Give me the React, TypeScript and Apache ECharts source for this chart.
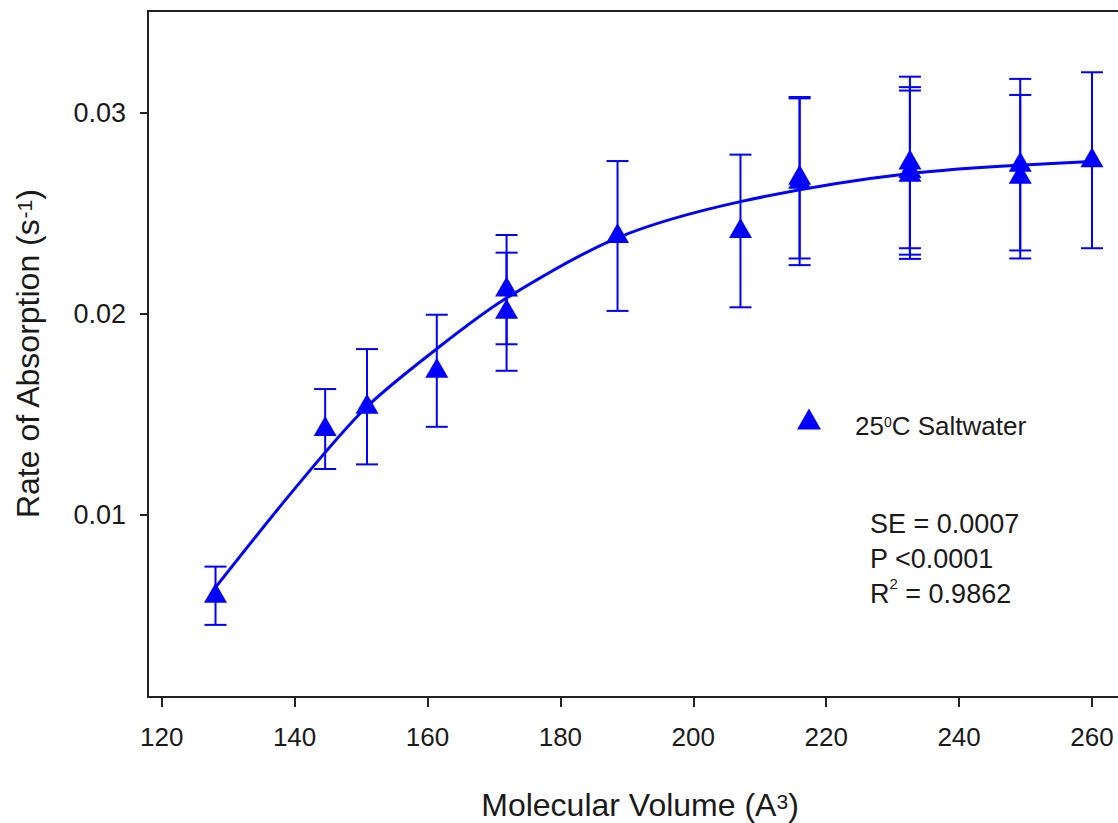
import React, { useEffect, useRef } from "react";
import * as echarts from "echarts";

// Measured points (Molecular Volume, Rate of Absorption, error)
const volumes = [128.1, 144.6, 150.9, 161.4, 171.9, 171.9, 188.6, 207.1, 216.0, 216.0, 232.6, 232.6, 232.6, 249.2, 249.2, 260.0];
const rates = [0.00598, 0.01428, 0.01539, 0.01718, 0.02122, 0.02012, 0.02389, 0.02414, 0.02679, 0.02659, 0.02755, 0.02713, 0.02694, 0.02744, 0.02684, 0.02766];
const errors = [0.00145, 0.00199, 0.00287, 0.00279, 0.00272, 0.00294, 0.00373, 0.0038, 0.00402, 0.00415, 0.00427, 0.00417, 0.00419, 0.00427, 0.00407, 0.00438];

// Fitted curve
const fitX = [128.1, 140, 150.6, 161.5, 171.9, 188.6, 207.1, 232.6, 260];
const fitY = [0.0064, 0.0113, 0.0153, 0.0183, 0.0208, 0.0238, 0.0256, 0.0270, 0.0276];

const xTicks = [120, 140, 160, 180, 200, 220, 240, 260];
const yTicks = [0.01, 0.02, 0.03];

const BLUE = "#0000ff";
const TXT = "#1a1a1a";
const FONT = "Liberation Sans, Arial, sans-serif";

export default function App() {
  const ref = useRef<HTMLDivElement>(null);
  useEffect(() => {
    if (!ref.current) return;
    const chart = echarts.init(ref.current, null, { renderer: "svg" });
    const points = volumes.map((v, i) => [v, rates[i]]);
    const bars = volumes.map((v, i) => [v, rates[i], errors[i]]);
    const curve = fitX.map((v, i) => [v, fitY[i]]);
    const titleStyle = {
      fontFamily: FONT,
      fontSize: 32,
      color: TXT,
      lineHeight: 28,
      rich: {
        sup: { fontFamily: FONT, fontSize: 21, lineHeight: 12, verticalAlign: "top", color: TXT },
      },
    };
    const option: any = {
      animation: false,
      backgroundColor: "#ffffff",
      grid: {
        left: 148,
        top: 11,
        width: 984,
        height: 686,
        show: true,
        borderColor: "#222",
        borderWidth: 2,
        containLabel: false,
        outerBoundsMode: "none",
      },
      xAxis: {
        type: "value",
        min: 117.94,
        max: 266.02,
        name: "Molecular Volume (A{sup|3})",
        nameLocation: "middle",
        nameGap: 94,
        nameTextStyle: titleStyle,
        axisLine: { show: true, lineStyle: { color: "#222", width: 2 } },
        axisTick: { show: true, length: 10, lineStyle: { color: "#222", width: 2 }, customValues: xTicks },
        axisLabel: { fontFamily: FONT, fontSize: 26, color: TXT, margin: 27, customValues: xTicks, formatter: (v: number) => String(v) },
        splitLine: { show: false },
      },
      yAxis: {
        type: "value",
        min: 0.00094,
        max: 0.03509,
        name: "Rate of Absorption (s{sup|-1})",
        nameLocation: "middle",
        nameGap: 106,
        nameRotate: 90,
        nameTextStyle: titleStyle,
        axisLine: { show: true, lineStyle: { color: "#222", width: 2 } },
        axisTick: { show: true, length: 8, lineStyle: { color: "#222", width: 2 }, customValues: yTicks },
        axisLabel: { fontFamily: FONT, fontSize: 27, color: TXT, margin: 22, customValues: yTicks, formatter: (v: number) => v.toFixed(2) },
        splitLine: { show: false },
      },
      legend: {
        show: true,
        left: 797,
        top: 401,
        padding: 0,
        itemWidth: 24,
        itemHeight: 21,
        data: [{ name: "25⁰C Saltwater", icon: "triangle", itemStyle: { color: BLUE, opacity: 1 } }],
        formatter: () => "25{sup|0}C Saltwater",
        textStyle: {
          fontFamily: FONT,
          fontSize: 26,
          color: TXT,
          lineHeight: 22,
          padding: [14, 0, 0, 29],
          rich: {
            sup: { fontFamily: FONT, fontSize: 14, lineHeight: 9, verticalAlign: "top", color: TXT },
          },
        },
      },
      graphic: [
        {
          type: "text",
          left: 870,
          top: 506,
          style: {
            text: "SE = 0.0007\nP <0.0001\n{r|R}{sup|2}{r| = 0.9862}",
            fontFamily: FONT,
            fontSize: 27,
            lineHeight: 35,
            fill: TXT,
            rich: {
              r: { fontFamily: FONT, fontSize: 27, lineHeight: 35, fill: TXT },
              sup: { fontFamily: FONT, fontSize: 15, lineHeight: 21, verticalAlign: "top", fill: TXT },
            },
          },
        },
      ],
      series: [
        {
          type: "custom",
          name: "errorbars",
          data: bars,
          encode: { x: 0, y: 1 },
          z: 2,
          renderItem: (params: any, api: any) => {
            const x = api.value(0);
            const y = api.value(1);
            const e = api.value(2);
            const top = api.coord([x, y + e]);
            const bot = api.coord([x, y - e]);
            const hw = 11;
            const st = { stroke: BLUE, lineWidth: 2 };
            return {
              type: "group",
              children: [
                { type: "line", shape: { x1: top[0], y1: top[1], x2: bot[0], y2: bot[1] }, style: st },
                { type: "line", shape: { x1: top[0] - hw, y1: top[1], x2: top[0] + hw, y2: top[1] }, style: st },
                { type: "line", shape: { x1: bot[0] - hw, y1: bot[1], x2: bot[0] + hw, y2: bot[1] }, style: st },
              ],
            };
          },
        },
        {
          type: "scatter",
          name: "25⁰C Saltwater",
          data: points,
          symbol: "triangle",
          symbolSize: [23, 20],
          symbolOffset: [0, -3],
          itemStyle: { color: BLUE, opacity: 1 },
          z: 3,
        },
        {
          type: "line",
          name: "fit",
          data: curve,
          smooth: 0.3,
          showSymbol: false,
          symbol: "none",
          lineStyle: { color: BLUE, width: 3 },
          z: 4,
        },
      ],
    };
    chart.setOption(option);
    return () => chart.dispose();
  }, []);
  return (
    <div
      ref={ref}
      style={{ position: "fixed", left: 0, top: 0, width: 1118, height: 823, background: "#fff" }}
    />
  );
}
